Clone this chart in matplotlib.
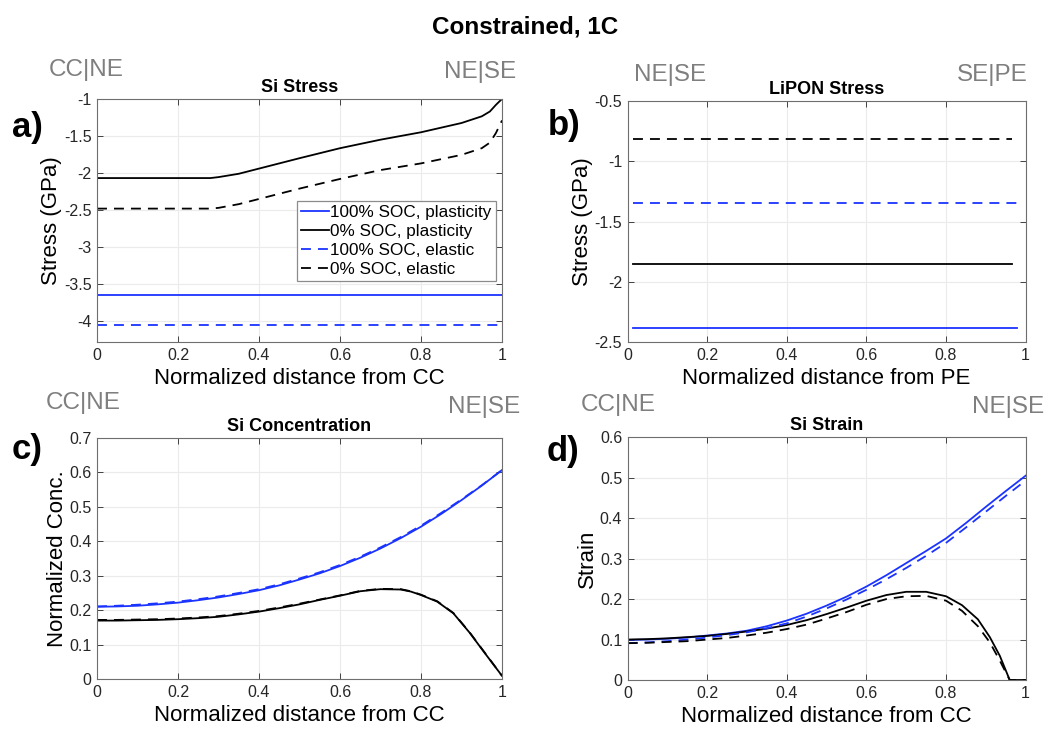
import numpy as np
import matplotlib
matplotlib.use("Agg")
import matplotlib.pyplot as plt
from matplotlib.ticker import FuncFormatter

plt.rcParams['font.family'] = ['Liberation Sans', 'DejaVu Sans']
plt.rcParams['axes.unicode_minus'] = False

# colours / labels
BLUE = '#1a33ff'
GRAY_TXT = '#7f7f7f'
series_labels = ['100% SOC, plasticity', '0% SOC, plasticity',
                 '100% SOC, elastic', '0% SOC, elastic']

# a) Si stress (GPa) vs normalized distance from CC
x_a = [0, 0.1, 0.2, 0.28, 0.3, 0.35, 0.4, 0.5, 0.6, 0.7, 0.8, 0.9, 0.95, 0.97, 0.985, 1.0]
a_plas0 = [-2.068, -2.068, -2.068, -2.068, -2.055, -2.01, -1.94, -1.80, -1.665, -1.55,
           -1.45, -1.325, -1.235, -1.17, -1.08, -1.0]
a_elas0 = [-2.48, -2.48, -2.48, -2.48, -2.47, -2.42, -2.35, -2.21, -2.08, -1.96,
           -1.87, -1.755, -1.665, -1.59, -1.46, -1.29]
x_a_flat = [0, 1]
a_plas100 = [-3.645, -3.645]
a_elas100 = [-4.045, -4.045]

# b) LiPON stress (GPa) vs normalized distance from PE
x_b_blue = [0.0125, 0.978]
x_b_black = [0.0125, 0.966]
b_plas100 = [-2.384, -2.384]
b_plas0 = [-1.851, -1.851]
b_elas100 = [-1.348, -1.348]
b_elas0 = [-0.815, -0.815]

# c) Si normalized concentration
x_c = [0, 0.05, 0.1, 0.15, 0.2, 0.25, 0.3, 0.35, 0.4, 0.45, 0.5,
       0.55, 0.6, 0.65, 0.7, 0.75, 0.8, 0.85, 0.9, 0.95, 1.0]
c_plas100 = [0.210, 0.211, 0.213, 0.217, 0.222, 0.229, 0.237, 0.247, 0.258, 0.272, 0.289,
             0.307, 0.328, 0.352, 0.379, 0.409, 0.442, 0.479, 0.519, 0.561, 0.606]
c_elas100 = [0.211, 0.213, 0.216, 0.220, 0.225, 0.232, 0.240, 0.250, 0.261, 0.275, 0.292,
             0.310, 0.331, 0.355, 0.382, 0.412, 0.445, 0.482, 0.521, 0.562, 0.606]
x_c0 = [0, 0.05, 0.1, 0.15, 0.2, 0.25, 0.3, 0.35, 0.4, 0.45, 0.5,
        0.55, 0.6, 0.65, 0.7, 0.75, 0.775, 0.8, 0.84, 0.88, 0.92, 0.96, 1.0]
c_plas0 = [0.170, 0.170, 0.171, 0.172, 0.174, 0.177, 0.181, 0.188, 0.196, 0.206, 0.217,
           0.230, 0.242, 0.255, 0.261, 0.260, 0.254, 0.244, 0.225, 0.191, 0.135, 0.072, 0.010]
c_elas0 = [0.172, 0.172, 0.173, 0.174, 0.176, 0.179, 0.183, 0.190, 0.198, 0.208, 0.219,
           0.231, 0.243, 0.256, 0.262, 0.261, 0.255, 0.245, 0.226, 0.192, 0.136, 0.073, 0.010]

# d) Si strain
x_d = [0, 0.05, 0.1, 0.15, 0.2, 0.25, 0.3, 0.35, 0.4, 0.45, 0.5,
       0.55, 0.6, 0.65, 0.7, 0.75, 0.8, 0.85, 0.9, 0.95, 1.0]
d_plas100 = [0.099, 0.100, 0.102, 0.105, 0.110, 0.115, 0.122, 0.133, 0.147, 0.164, 0.184,
             0.206, 0.231, 0.259, 0.289, 0.319, 0.350, 0.388, 0.428, 0.467, 0.505]
d_elas100 = [0.091, 0.093, 0.096, 0.100, 0.105, 0.111, 0.118, 0.128, 0.140, 0.157, 0.177,
             0.199, 0.223, 0.249, 0.277, 0.307, 0.339, 0.377, 0.416, 0.455, 0.493]
x_d0 = [0, 0.05, 0.1, 0.15, 0.2, 0.25, 0.3, 0.35, 0.4, 0.45, 0.5,
        0.55, 0.6, 0.65, 0.7, 0.75, 0.8, 0.84, 0.88, 0.91, 0.935, 0.96, 1.0]
d_plas0 = [0.100, 0.101, 0.103, 0.106, 0.109, 0.114, 0.120, 0.127, 0.136, 0.148, 0.163,
           0.179, 0.196, 0.210, 0.218, 0.218, 0.207, 0.185, 0.150, 0.106, 0.060, 0.0, 0.0]
d_elas0 = [0.091, 0.092, 0.094, 0.096, 0.100, 0.104, 0.110, 0.117, 0.126, 0.137, 0.152,
           0.168, 0.186, 0.200, 0.207, 0.208, 0.196, 0.171, 0.133, 0.093, 0.048, 0.0, 0.0]

LW = 1.3
DASH = (5.5, 3.9)


def style_axes(ax, yticks, ylim):
    ax.set_xlim(0, 1)
    ax.set_ylim(*ylim)
    ax.set_xticks([0, 0.2, 0.4, 0.6, 0.8, 1])
    ax.set_yticks(yticks)
    fmt = FuncFormatter(lambda v, p: '%g' % round(v, 6))
    ax.xaxis.set_major_formatter(fmt)
    ax.yaxis.set_major_formatter(fmt)
    ax.tick_params(direction='in', top=True, right=True, length=4, width=0.6,
                   labelsize=11.5, colors='#262626', pad=4)
    for s in ax.spines.values():
        s.set_color('#6e6e6e')
        s.set_linewidth(0.8)
    ax.grid(True, color='#ebebeb', linewidth=0.8)
    ax.set_axisbelow(True)


fig = plt.figure(figsize=(10.5, 7.3), dpi=100)

pos_a = [0.0924, 0.5315, 0.3857, 0.333]
pos_b = [0.5978, 0.531, 0.379, 0.331]
pos_c = [0.0924, 0.0695, 0.3857, 0.331]
pos_d = [0.5978, 0.0685, 0.379, 0.3325]

# a
ax = fig.add_axes(pos_a)
ax.plot(x_a_flat, a_plas100, color=BLUE, lw=LW, label=series_labels[0])
ax.plot(x_a, a_plas0, color='black', lw=LW, label=series_labels[1])
ax.plot(x_a_flat, a_elas100, color=BLUE, lw=LW, dashes=DASH, label=series_labels[2])
ax.plot(x_a, a_elas0, color='black', lw=LW, dashes=DASH, label=series_labels[3])
style_axes(ax, np.arange(-4, -0.99, 0.5), (-4.28, -1))
ax.set_title('Si Stress', fontsize=13, fontweight='bold', pad=5)
ax.set_ylabel('Stress (GPa)', fontsize=16, labelpad=1)
ax.set_xlabel('Normalized distance from CC', fontsize=16, labelpad=4)
leg = ax.legend(loc='upper right', bbox_to_anchor=(0.985, 0.58), fontsize=12.3,
                fancybox=False, edgecolor='#8c8c8c', framealpha=1,
                handlelength=1.6, handletextpad=0.1, labelspacing=0.22,
                borderpad=0.25, borderaxespad=0)
leg.get_frame().set_linewidth(0.9)

# b
ax = fig.add_axes(pos_b)
ax.plot(x_b_blue, b_plas100, color=BLUE, lw=LW)
ax.plot(x_b_black, b_plas0, color='black', lw=LW)
ax.plot(x_b_blue, b_elas100, color=BLUE, lw=LW, dashes=DASH)
ax.plot(x_b_black, b_elas0, color='black', lw=LW, dashes=DASH)
style_axes(ax, np.arange(-2.5, -0.49, 0.5), (-2.5, -0.5))
ax.set_title('LiPON Stress', fontsize=13, fontweight='bold', pad=5)
ax.set_ylabel('Stress (GPa)', fontsize=16, labelpad=1)
ax.set_xlabel('Normalized distance from PE', fontsize=16, labelpad=4)

# c
ax = fig.add_axes(pos_c)
ax.plot(x_c, c_plas100, color=BLUE, lw=LW)
ax.plot(x_c0, c_plas0, color='black', lw=LW)
ax.plot(x_c, c_elas100, color=BLUE, lw=LW, dashes=DASH)
ax.plot(x_c0, c_elas0, color='black', lw=LW, dashes=DASH)
style_axes(ax, np.arange(0, 0.71, 0.1), (0, 0.7))
ax.set_title('Si Concentration', fontsize=13, fontweight='bold', pad=5)
ax.set_ylabel('Normalized Conc.', fontsize=16, labelpad=1)
ax.set_xlabel('Normalized distance from CC', fontsize=16, labelpad=4)

# d
ax = fig.add_axes(pos_d)
ax.plot(x_d, d_plas100, color=BLUE, lw=LW)
ax.plot(x_d0, d_plas0, color='black', lw=LW)
ax.plot(x_d, d_elas100, color=BLUE, lw=LW, dashes=DASH)
ax.plot(x_d0, d_elas0, color='black', lw=LW, dashes=DASH)
style_axes(ax, np.arange(0, 0.61, 0.1), (0, 0.6))
ax.set_title('Si Strain', fontsize=13, fontweight='bold', pad=5)
ax.set_ylabel('Strain', fontsize=16, labelpad=1)
ax.set_xlabel('Normalized distance from CC', fontsize=16, labelpad=4)

# figure-level text
fig.text(0.5, 1 - 27 / 730, 'Constrained, 1C', ha='center', va='center',
         fontsize=17.5, fontweight='bold')

interfaces = [('CC|NE', 49, 70, 'left'), ('NE|SE', 516, 72, 'right'),
              ('NE|SE', 634, 75, 'left'), ('SE|PE', 1028, 75, 'right'),
              ('CC|NE', 46, 403, 'left'), ('NE|SE', 520, 407, 'right'),
              ('CC|NE', 581, 405, 'left'), ('NE|SE', 972, 407, 'left')]
for txt, px, py, ha in interfaces:
    fig.text(px / 1050, 1 - py / 730, txt, ha=ha, va='center',
             fontsize=17.5, color=GRAY_TXT)

panel_tags = [('a)', 12, 128), ('b)', 548, 125), ('c)', 12, 449), ('d)', 547, 452)]
for txt, px, py in panel_tags:
    fig.text(px / 1050, 1 - py / 730, txt, ha='left', va='center',
             fontsize=25, fontweight='bold')

fig.savefig('out.png', dpi=100)
